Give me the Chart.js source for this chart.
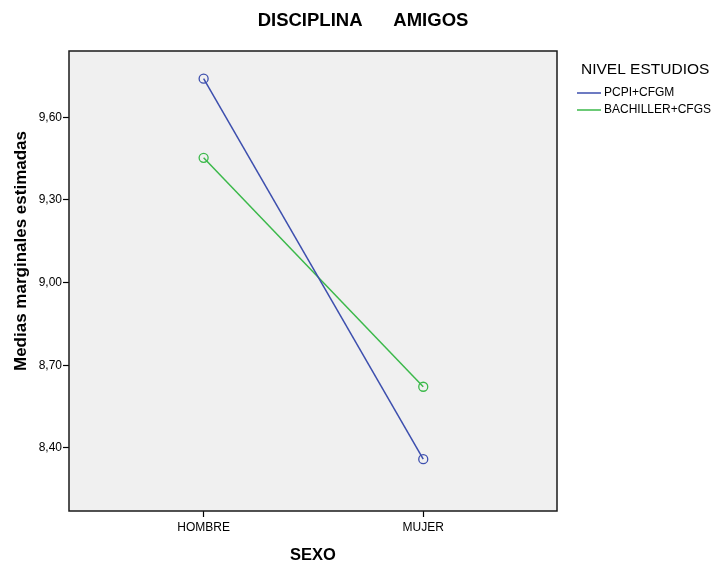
<!DOCTYPE html>
<html>
<head>
<meta charset="utf-8">
<script src="https://cdn.jsdelivr.net/npm/chart.js@4.4.1/dist/chart.umd.min.js"></script>
<style>
  html, body { margin: 0; padding: 0; background: #fff; }
  #wrap { width: 716px; height: 569px; }
</style>
</head>
<body>
<div id="wrap"><canvas id="grafico" width="716" height="569"></canvas></div>
<script>
// Datos del gráfico de perfil
const sexo = ['HOMBRE', 'MUJER'];
const pcpiCfgm = [9.740, 8.359];
const bachillerCfgs = [9.453, 8.622];
const ticksY = [8.40, 8.70, 9.00, 9.30, 9.60];
const nombresSeries = ['PCPI+CFGM', 'BACHILLER+CFGS'];
const coloresSeries = ['#3d4fae', '#3bb94a'];

const fuente = "'Liberation Sans', Arial, sans-serif";

// Fondo gris del área, marco, títulos y leyenda estilo SPSS
const estiloSpss = {
  id: 'estiloSpss',
  beforeDraw(chart) {
    const a = chart.chartArea;
    const ctx = chart.ctx;
    ctx.save();
    ctx.fillStyle = '#f0f0f0';
    ctx.fillRect(a.left, a.top, a.right - a.left, a.bottom - a.top);
    ctx.restore();
  },
  afterDraw(chart) {
    const a = chart.chartArea;
    const ctx = chart.ctx;
    ctx.save();
    ctx.strokeStyle = '#1a1a1a';
    ctx.lineWidth = 1.5;
    ctx.strokeRect(a.left, a.top, a.right - a.left, a.bottom - a.top);

    // Título
    ctx.fillStyle = '#000';
    ctx.font = 'bold 18.5px ' + fuente;
    ctx.textAlign = 'center';
    ctx.textBaseline = 'middle';
    ctx.fillText('DISCIPLINA      AMIGOS', 363, 21);

    // Título del eje Y
    ctx.save();
    ctx.translate(21, 251);
    ctx.rotate(-Math.PI / 2);
    ctx.font = 'bold 17px ' + fuente;
    ctx.fillText('Medias marginales estimadas', 0, 0);
    ctx.restore();

    // Leyenda
    ctx.textAlign = 'left';
    ctx.font = '15.5px ' + fuente;
    ctx.fillText('NIVEL ESTUDIOS', 581, 70);
    ctx.font = '12px ' + fuente;
    chart.data.datasets.forEach((ds, i) => {
      const y = 93 + i * 17;
      ctx.strokeStyle = ds.borderColor;
      ctx.lineWidth = 1.5;
      ctx.beginPath();
      ctx.moveTo(577, y);
      ctx.lineTo(601, y);
      ctx.stroke();
      ctx.fillStyle = '#000';
      ctx.fillText(ds.label, 604, y);
    });
    ctx.restore();
  }
};

const datasets = [pcpiCfgm, bachillerCfgs].map((serie, i) => ({
  label: nombresSeries[i],
  data: serie.map((v, j) => ({ x: j, y: v })),
  borderColor: coloresSeries[i],
  borderWidth: 1.5,
  pointStyle: 'circle',
  pointRadius: 4.5,
  pointBorderWidth: 1.3,
  pointBorderColor: coloresSeries[i],
  pointBackgroundColor: 'rgba(0,0,0,0)',
  tension: 0
}));

new Chart(document.getElementById('grafico').getContext('2d'), {
  type: 'line',
  data: { datasets: datasets },
  plugins: [estiloSpss],
  options: {
    responsive: false,
    animation: false,
    layout: { padding: { top: 51, right: 159, left: 0, bottom: 0 } },
    plugins: {
      legend: { display: false },
      title: { display: false },
      tooltip: { enabled: false }
    },
    scales: {
      x: {
        type: 'linear',
        min: -0.613,
        max: 1.609,
        afterFit(scale) { scale.height = 58; },
        afterBuildTicks(scale) { scale.ticks = sexo.map((_, i) => ({ value: i })); },
        ticks: {
          color: '#000',
          font: { family: fuente, size: 12 },
          padding: 3,
          callback: (v) => sexo[v]
        },
        grid: { drawOnChartArea: false, tickLength: 6, tickColor: '#000', tickWidth: 1.2 },
        border: { display: false },
        title: {
          display: true,
          text: 'SEXO',
          color: '#000',
          font: { family: fuente, size: 16.5, weight: 'bold' },
          padding: { top: 13 }
        }
      },
      y: {
        min: 8.171,
        max: 9.8406,
        afterFit(scale) { scale.width = 69; },
        afterBuildTicks(scale) { scale.ticks = ticksY.map(v => ({ value: v })); },
        ticks: {
          color: '#000',
          font: { family: fuente, size: 12 },
          padding: 1,
          callback: (v) => v.toFixed(2).replace('.', ',')
        },
        grid: { drawOnChartArea: false, tickLength: 6, tickColor: '#000', tickWidth: 1.2 },
        border: { display: false }
      }
    }
  }
});
</script>
</body>
</html>
